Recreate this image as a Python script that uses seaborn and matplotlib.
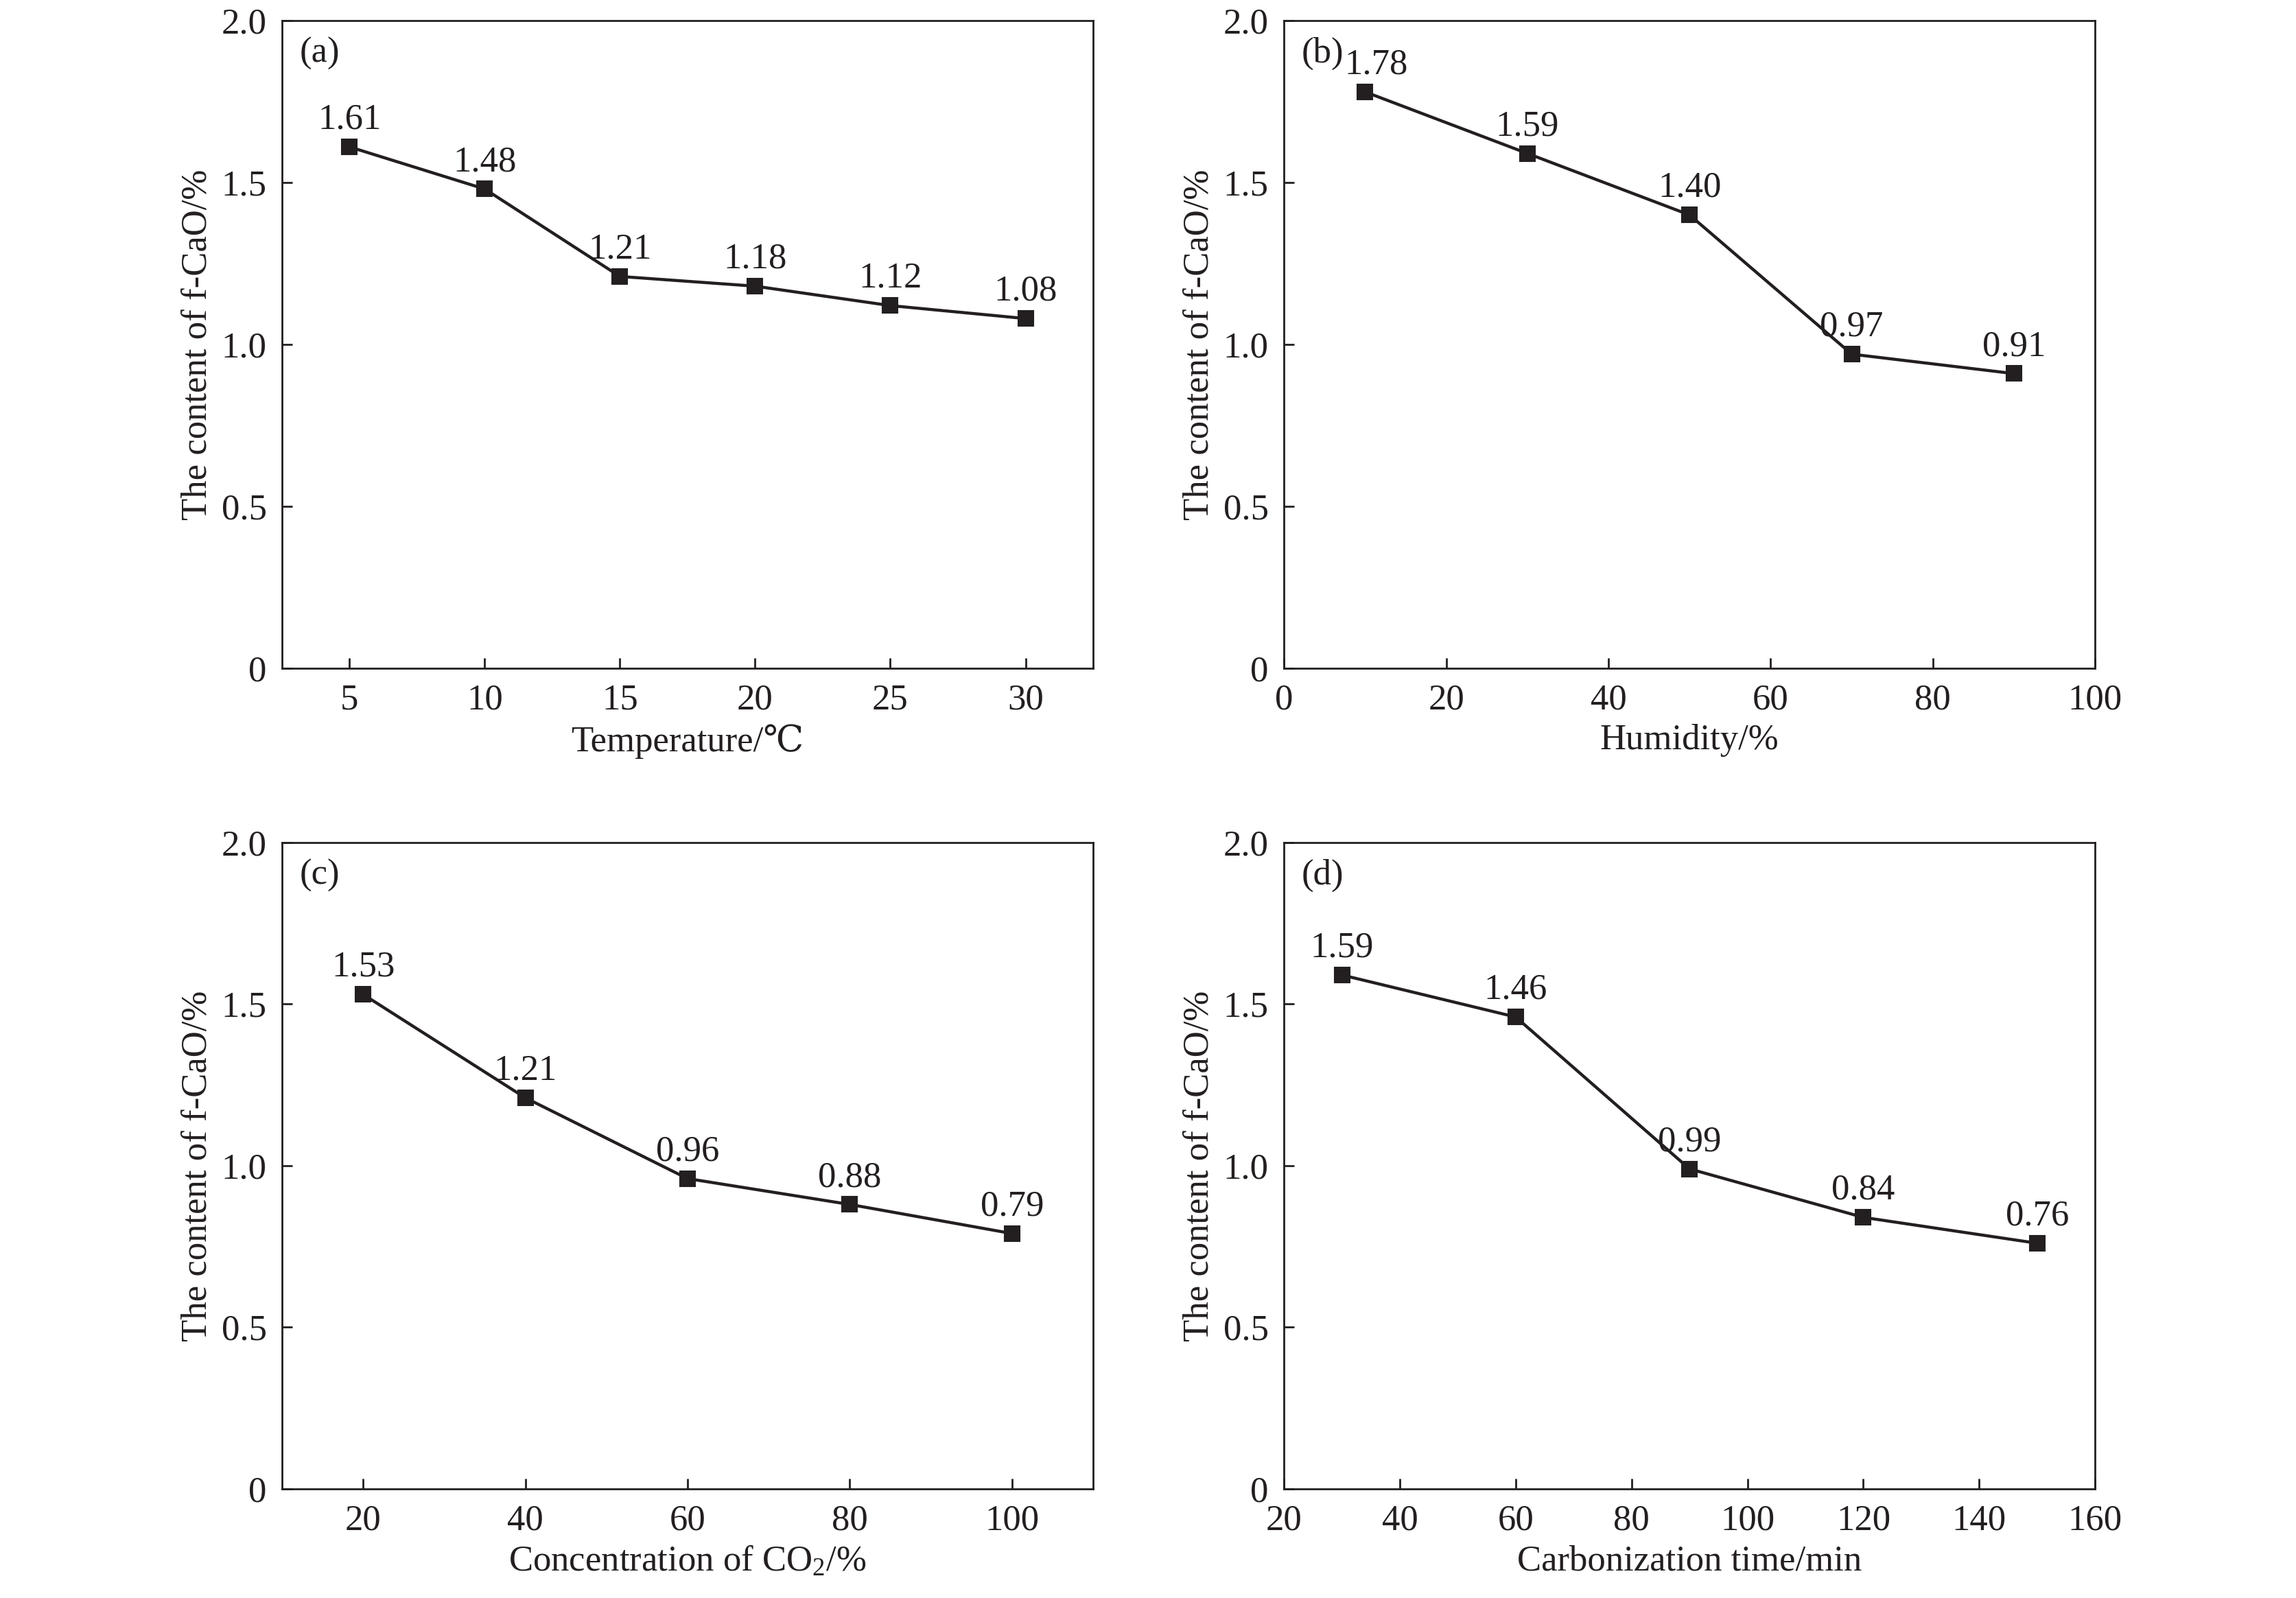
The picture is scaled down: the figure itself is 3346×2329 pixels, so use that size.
import matplotlib
matplotlib.use("Agg")
import matplotlib.pyplot as plt
import seaborn as sns
import pandas as pd

# ---- data ----
temp_x = [5, 10, 15, 20, 25, 30]
temp_y = [1.61, 1.48, 1.21, 1.18, 1.12, 1.08]
hum_x = [10, 30, 50, 70, 90]
hum_y = [1.78, 1.59, 1.40, 0.97, 0.91]
co2_x = [20, 40, 60, 80, 100]
co2_y = [1.53, 1.21, 0.96, 0.88, 0.79]
time_x = [30, 60, 90, 120, 150]
time_y = [1.59, 1.46, 0.99, 0.84, 0.76]

panel_tags = ["(a)", "(b)", "(c)", "(d)"]
x_labels = ["Temperature/℃", "Humidity/%", "Concentration of CO$_2$/%", "Carbonization time/min"]
y_label = "The content of f-CaO/%"
x_ticks = [[5, 10, 15, 20, 25, 30], [0, 20, 40, 60, 80, 100],
           [20, 40, 60, 80, 100], [20, 40, 60, 80, 100, 120, 140, 160]]
x_lims = [(2.5, 32.5), (0, 100), (10, 110), (20, 160)]
y_ticks = [0, 0.5, 1.0, 1.5, 2.0]
y_tick_labels = ["0", "0.5", "1.0", "1.5", "2.0"]

sns.set_theme(style="ticks")
plt.rcParams["font.family"] = ["Liberation Serif", "DejaVu Serif"]
plt.rcParams["mathtext.fontset"] = "custom"
plt.rcParams["mathtext.rm"] = "Liberation Serif"
plt.rcParams["mathtext.it"] = "Liberation Serif:italic"
plt.rcParams["mathtext.default"] = "rm"

ink = "#231f20"
fs = 19

fig = plt.figure(figsize=(16.73, 11.645), dpi=200)
positions = [
    [0.1228, 0.5818, 0.3533, 0.4053],
    [0.5592, 0.5818, 0.3533, 0.4053],
    [0.1228, 0.0683, 0.3533, 0.4045],
    [0.5592, 0.0683, 0.3533, 0.4045],
]
datasets = [(temp_x, temp_y), (hum_x, hum_y), (co2_x, co2_y), (time_x, time_y)]

for i, (xs, ys) in enumerate(datasets):
    ax = fig.add_axes(positions[i])
    df = pd.DataFrame({"x": xs, "y": ys})
    sns.lineplot(data=df, x="x", y="y", ax=ax, color=ink, linewidth=1.6,
                 marker="s", markersize=8, markeredgecolor=ink,
                 markerfacecolor=ink, errorbar=None)
    for j, (xv, yv) in enumerate(zip(xs, ys)):
        dx = 6 if (i == 1 and j == 0) else 0
        ax.annotate(f"{yv:.2f}", (xv, yv), xytext=(dx, 9.5),
                    textcoords="offset points", ha="center", va="baseline",
                    fontsize=fs, color=ink)
    ax.set_xlim(*x_lims[i])
    ax.set_ylim(0, 2.0)
    ax.set_xticks(x_ticks[i])
    ax.set_xticklabels([str(t) for t in x_ticks[i]])
    ax.set_yticks(y_ticks)
    ax.set_yticklabels(y_tick_labels)
    ax.tick_params(direction="in", length=5.4, width=1.0, labelsize=fs,
                   colors=ink, pad=8, top=False, right=False)
    for sp in ax.spines.values():
        sp.set_linewidth(1.0)
        sp.set_color(ink)
        sp.set_visible(True)
    ax.set_xlabel(x_labels[i], fontsize=fs, color=ink, labelpad=4)
    ax.set_ylabel(y_label, fontsize=fs, color=ink, labelpad=4)
    ax.text(0.022, 0.975, panel_tags[i], transform=ax.transAxes,
            ha="left", va="top", fontsize=fs, color=ink)

fig.savefig("out.png", dpi=200, facecolor="white")
